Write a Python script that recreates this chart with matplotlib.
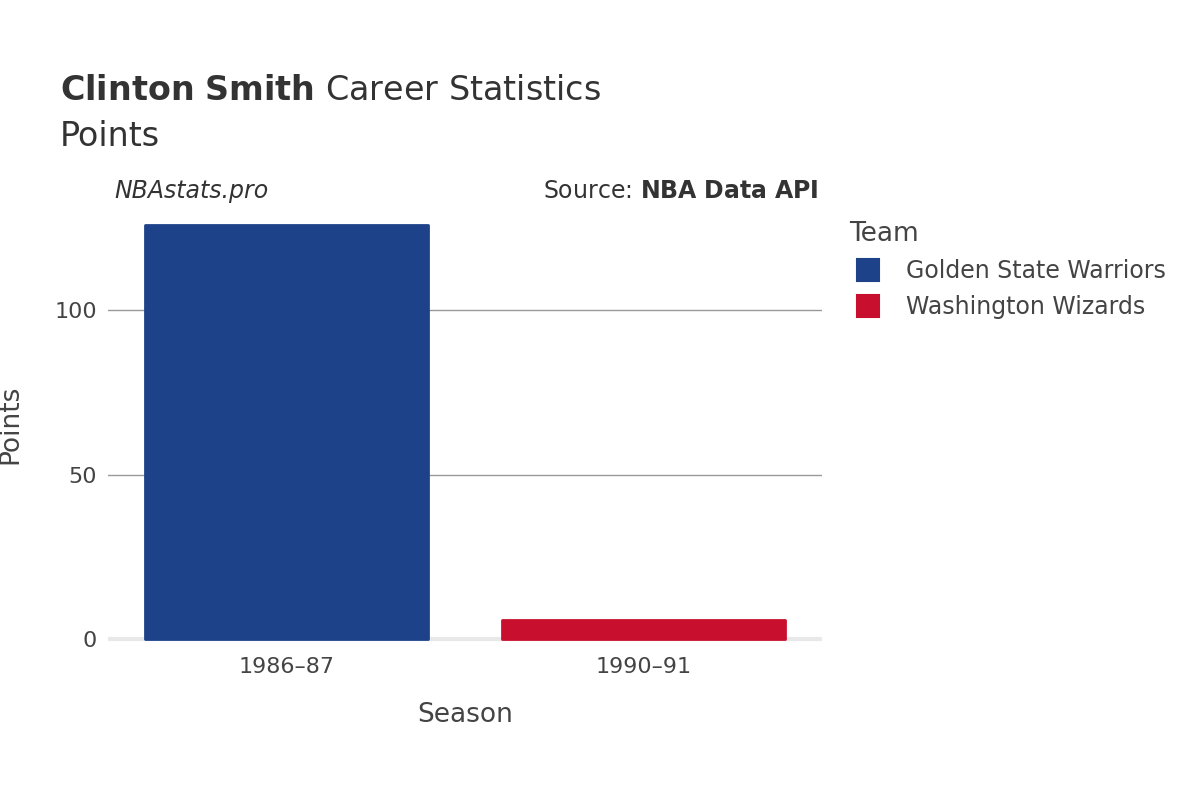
import matplotlib.pyplot as plt
from matplotlib.lines import Line2D

seasons = ["1986\u201387", "1990\u201391"]
points = [126, 6]
teams = ["Golden State Warriors", "Washington Wizards"]
colors = ["#1d428a", "#c8102e"]

fig = plt.figure(figsize=(12, 8), dpi=100)
ax = fig.add_axes([0.09, 0.1925, 0.595, 0.554])

for i, (s, p, c, t) in enumerate(zip(seasons, points, colors, teams)):
    ax.bar(i, p, width=0.79, color=c, edgecolor=c, linewidth=2,
           joinstyle="round", zorder=3)

ax.set_xlim(-0.5, 1.5)
ax.set_ylim(-2, 132.6)
ax.set_xticks(range(len(seasons)))
ax.set_xticklabels(seasons)
ax.set_yticks([0, 50, 100])
ax.grid(axis="y", color="#999999", linewidth=1, zorder=0)
ax.axhline(0, color="#e8e8e8", linewidth=3, zorder=2)
for sp in ax.spines.values():
    sp.set_visible(False)
ax.tick_params(length=0, labelsize=16, labelcolor="#444444", pad=8)
ax.set_xlabel("Season", fontsize=19, color="#444444", labelpad=18)
ax.set_ylabel("Points", fontsize=19, color="#444444", labelpad=22)

fig.text(0.05, 0.875, r"$\bf{Clinton\ Smith}$ Career Statistics", fontsize=24, color="#333333")
fig.text(0.05, 0.818, "Points", fontsize=24, color="#333333")
fig.text(0.095, 0.752, "NBAstats.pro", fontsize=17, style="italic", color="#333333")
fig.text(0.682, 0.752, r"Source: $\bf{NBA\ Data\ API}$", fontsize=17, color="#333333", ha="right")

handles = [Line2D([], [], marker="s", linestyle="none", markersize=16,
                  markerfacecolor=c, markeredgecolor=c, markeredgewidth=1.5,
                  solid_joinstyle="round") for c in colors]
leg = fig.legend(handles, teams, loc="upper left", bbox_to_anchor=(0.69, 0.75),
                 frameon=False, title="Team", fontsize=17, title_fontsize=19,
                 handlelength=1.6, labelcolor="#444444", handletextpad=0.8)
leg.get_title().set_color("#444444")
leg._legend_box.align = "left"

fig.savefig("out.png")
